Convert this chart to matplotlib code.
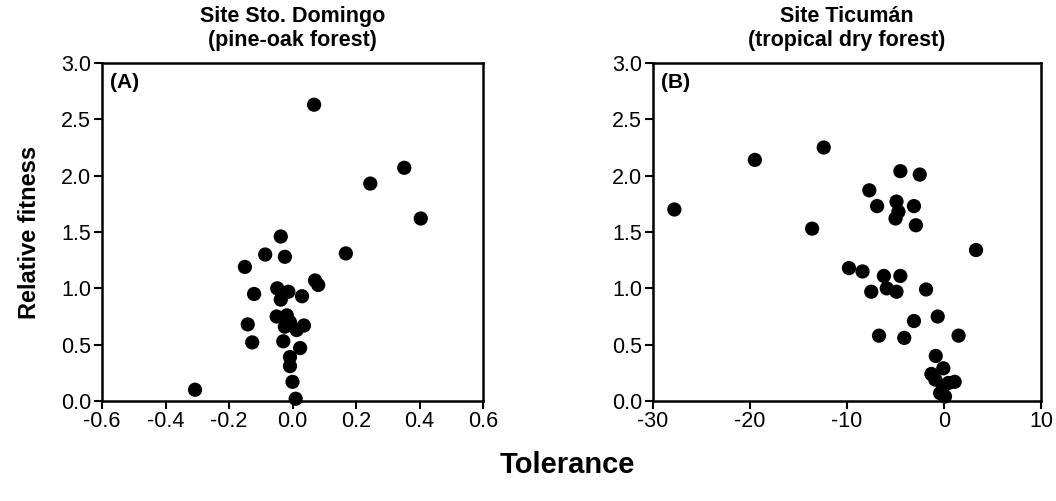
import numpy as np
import matplotlib
matplotlib.use("Agg")
import matplotlib.pyplot as plt

plt.rcParams['font.family'] = ['Liberation Sans', 'DejaVu Sans']

# Site Sto. Domingo (pine-oak forest)
tol_a = [-0.307, 0.068, 0.352, 0.245, 0.404, 0.168, -0.037, -0.086, -0.024, -0.150,
         0.071, 0.081, -0.121, -0.048, -0.013, -0.037, 0.030, -0.141, -0.127, -0.050,
         -0.018, -0.008, -0.024, 0.013, 0.036, -0.029, 0.024, -0.008, -0.008, 0.000, 0.010]
fit_a = [0.10, 2.63, 2.07, 1.93, 1.62, 1.31, 1.46, 1.30, 1.28, 1.19,
         1.07, 1.03, 0.95, 1.00, 0.97, 0.90, 0.93, 0.68, 0.52, 0.75,
         0.76, 0.70, 0.66, 0.63, 0.67, 0.53, 0.47, 0.39, 0.31, 0.17, 0.02]

# Site Ticuman (tropical dry forest)
tol_b = [-27.8, -19.5, -13.6, -12.4, -4.5, -2.5, -7.7, -6.9, -4.9, -4.7,
         -5.0, -3.1, -2.9, 3.3, -9.8, -8.4, -6.2, -4.5, -7.5, -5.9,
         -4.9, -1.85, -0.65, -3.1, -6.7, -4.1, 1.5, -0.85, -1.3, -0.07,
         -0.9, 1.1, -0.07, -0.4, 0.1, 0.45]
fit_b = [1.70, 2.14, 1.53, 2.25, 2.04, 2.01, 1.87, 1.73, 1.77, 1.68,
         1.62, 1.73, 1.56, 1.34, 1.18, 1.15, 1.11, 1.11, 0.97, 1.00,
         0.97, 0.99, 0.75, 0.71, 0.58, 0.56, 0.58, 0.40, 0.24, 0.29,
         0.19, 0.17, 0.13, 0.07, 0.04, 0.16]

fig = plt.figure(figsize=(10.56, 5.01), dpi=100)
ax1 = fig.add_axes([0.0966, 0.1996, 0.3608, 0.6746])
ax2 = fig.add_axes([0.6184, 0.1996, 0.3674, 0.6746])

panels = [
    (ax1, tol_a, fit_a, "Site Sto. Domingo\n(pine-oak forest)", "(A)",
     (-0.6, 0.6), np.arange(-0.6, 0.61, 0.2), "{:.1f}"),
    (ax2, tol_b, fit_b, "Site Ticumán\n(tropical dry forest)", "(B)",
     (-30, 10), np.arange(-30, 11, 10), "{:.0f}"),
]

for ax, x, y, title, tag, xlim, xt, fmt in panels:
    ax.scatter(x, y, s=105, color='black', edgecolors='none', zorder=3, clip_on=False)
    ax.set_xlim(*xlim)
    ax.set_ylim(0, 3.0)
    ax.set_xticks(xt)
    ax.set_xticklabels([fmt.format(v + 0.0) for v in xt])
    ax.set_yticks(np.arange(0, 3.01, 0.5))
    ax.set_yticklabels(["{:.1f}".format(v) for v in np.arange(0, 3.01, 0.5)])
    ax.tick_params(direction='out', length=6, width=1.5, labelsize=15.5, pad=2)
    ax.tick_params(axis='x', pad=1)
    for sp in ax.spines.values():
        sp.set_linewidth(1.8)
    ax.set_title(title, fontsize=15.5, fontweight='bold', pad=12, linespacing=1.2)
    ax.text(0.02, 0.97, tag, transform=ax.transAxes, fontsize=15,
            fontweight='bold', va='top', ha='left')

ax1.set_ylabel("Relative fitness", fontsize=17, fontweight='bold', labelpad=14)
fig.text(0.537, 0.072, "Tolerance", fontsize=21, fontweight='bold',
         ha='center', va='center')

fig.savefig("out.png", dpi=100)
